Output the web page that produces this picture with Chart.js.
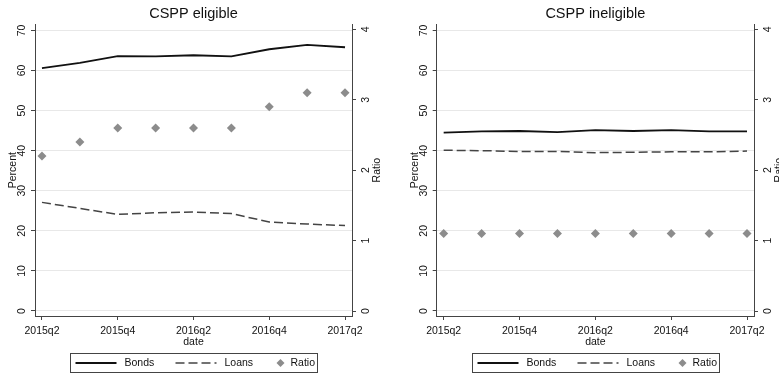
<!DOCTYPE html>
<html>
<head>
<meta charset="utf-8">
<script src="https://cdn.jsdelivr.net/npm/chart.js@4.4.0/dist/chart.umd.min.js"></script>
<style>
  body { margin: 0; background: #fff; overflow: hidden; width: 779px; height: 374px; position: relative; }
  .panel { position: absolute; top: 0; height: 374px; }
</style>
</head>
<body>
<div class="panel" style="left:0"><canvas id="eligible" width="390" height="374"></canvas></div>
<div class="panel" style="left:402px"><canvas id="ineligible" width="390" height="374"></canvas></div>
<script>
// quarters on the x axis
const quarters = ["2015q2", "2015q3", "2015q4", "2016q1", "2016q2", "2016q3", "2016q4", "2017q1", "2017q2"];
const xTickIdx = [0, 2, 4, 6, 8];
const percentTicks = [0, 10, 20, 30, 40, 50, 60, 70];
const ratioTicks = [0, 1, 2, 3, 4];

// CSPP eligible
const eligBonds = [60.6, 61.9, 63.6, 63.5, 63.8, 63.5, 65.3, 66.4, 65.8];
const eligLoans = [27.1, 25.6, 24.1, 24.5, 24.7, 24.3, 22.2, 21.7, 21.3];
const eligRatio = [2.2, 2.4, 2.6, 2.6, 2.6, 2.6, 2.9, 3.1, 3.1];

// CSPP ineligible
const inelBonds = [44.5, 44.8, 44.9, 44.6, 45.1, 44.9, 45.1, 44.8, 44.8];
const inelLoans = [40.1, 40.0, 39.8, 39.8, 39.5, 39.6, 39.7, 39.7, 39.9];
const inelRatio = [1.1, 1.1, 1.1, 1.1, 1.1, 1.1, 1.1, 1.1, 1.1];

const FONT = "'Liberation Sans', Arial, sans-serif";
const AXIS = "#444";

const toXY = arr => arr.map((v, i) => ({ x: i, y: v }));

// boxed legend under the plot, Stata style
const boxLegend = {
  id: "boxLegend",
  afterDraw(chart) {
    const ctx = chart.ctx;
    const a = chart.chartArea;
    const bw = 247, bh = 19;
    const bx = Math.round((a.left + a.right) / 2 - bw / 2) + 0.5;
    const by = 353.5;
    const my = by + bh / 2;
    const keyX = [5, 105, 210];
    const txtX = [54, 154, 220];
    ctx.save();
    ctx.strokeStyle = AXIS;
    ctx.lineWidth = 1;
    ctx.strokeRect(bx, by, bw, bh);
    ctx.font = "10.5px " + FONT;
    ctx.textBaseline = "middle";
    chart.data.datasets.forEach((ds, i) => {
      const kx = bx + keyX[i];
      if (ds.showLine === false) {
        ctx.beginPath();
        const r = 4;
        ctx.moveTo(kx, my - r); ctx.lineTo(kx + r, my); ctx.lineTo(kx, my + r); ctx.lineTo(kx - r, my);
        ctx.closePath();
        ctx.fillStyle = ds.backgroundColor;
        ctx.fill();
      } else {
        ctx.beginPath();
        ctx.setLineDash(ds.borderDash || []);
        ctx.strokeStyle = ds.borderColor;
        ctx.lineWidth = ds.borderWidth;
        ctx.moveTo(kx, my); ctx.lineTo(kx + 41, my);
        ctx.stroke();
        ctx.setLineDash([]);
      }
      ctx.fillStyle = "#111";
      ctx.fillText(ds.label, bx + txtX[i], my);
    });
    ctx.restore();
  }
};

// right axis title, rotated bottom-to-top like the left one
const ratioTitle = {
  id: "ratioTitle",
  afterDraw(chart) {
    const ctx = chart.ctx;
    const a = chart.chartArea;
    ctx.save();
    ctx.translate(a.right + 25.5, (a.top + a.bottom) / 2);
    ctx.rotate(-Math.PI / 2);
    ctx.font = "10.5px " + FONT;
    ctx.fillStyle = "#111";
    ctx.textAlign = "center";
    ctx.textBaseline = "middle";
    ctx.fillText("Ratio", 0, 0);
    ctx.restore();
  }
};

function makeChart(id, title, bonds, loans, ratio, leftW) {
  const ctx = document.getElementById(id).getContext("2d");
  return new Chart(ctx, {
    type: "line",
    data: {
      datasets: [
        {
          label: "Bonds",
          data: toXY(bonds),
          borderColor: "#111",
          borderWidth: 1.8,
          pointRadius: 0,
          tension: 0,
          yAxisID: "y"
        },
        {
          label: "Loans",
          data: toXY(loans),
          borderColor: "#444",
          borderWidth: 1.5,
          borderDash: [9, 4],
          pointRadius: 0,
          tension: 0,
          yAxisID: "y"
        },
        {
          label: "Ratio",
          data: toXY(ratio),
          showLine: false,
          pointStyle: "rectRot",
          pointRadius: 4.5,
          backgroundColor: "#8c8c8c",
          borderColor: "#8c8c8c",
          borderWidth: 0,
          yAxisID: "y2"
        }
      ]
    },
    options: {
      responsive: false,
      animation: false,
      layout: { padding: { top: 0, bottom: 21, left: 0, right: 0 } },
      plugins: {
        legend: { display: false },
        tooltip: { enabled: false },
        title: {
          display: true,
          text: title,
          fullSize: false,
          color: "#111",
          font: { family: FONT, size: 14.5, weight: "normal" },
          padding: { top: 5, bottom: 2 }
        }
      },
      scales: {
        x: {
          type: "linear",
          min: -0.184,
          max: 8.184,
          afterBuildTicks: s => { s.ticks = xTickIdx.map(v => ({ value: v })); },
          afterFit: s => { s.height = 37; },
          ticks: {
            autoSkip: false,
            minRotation: 0,
            maxRotation: 0,
            padding: 5,
            color: "#111",
            font: { family: FONT, size: 10.5 },
            callback: v => quarters[v]
          },
          grid: { drawOnChartArea: false, tickLength: 4, tickColor: AXIS },
          border: { color: AXIS },
          title: {
            display: true,
            text: "date",
            color: "#111",
            font: { family: FONT, size: 10.5 },
            padding: { top: 0, bottom: 5 }
          }
        },
        y: {
          position: "left",
          min: -1.25,
          max: 71.5,
          afterBuildTicks: s => { s.ticks = percentTicks.map(v => ({ value: v })); },
          afterFit: s => { s.width = leftW; },
          ticks: {
            minRotation: 90,
            maxRotation: 90,
            crossAlign: "center",
            padding: 3,
            color: "#111",
            font: { family: FONT, size: 10.5 }
          },
          grid: { color: "#e8e8e8", tickLength: 4, tickColor: AXIS },
          border: { color: AXIS },
          title: {
            display: true,
            text: "Percent",
            color: "#111",
            font: { family: FONT, size: 10.5 },
            padding: { top: 7, bottom: 0 }
          }
        },
        y2: {
          position: "right",
          min: -0.07,
          max: 4.07,
          afterBuildTicks: s => { s.ticks = ratioTicks.map(v => ({ value: v })); },
          afterFit: s => { s.width = 38; },
          ticks: {
            minRotation: 90,
            maxRotation: 90,
            crossAlign: "center",
            padding: 7,
            color: "#111",
            font: { family: FONT, size: 10.5 }
          },
          grid: { drawOnChartArea: false, tickLength: 4, tickColor: AXIS },
          border: { color: AXIS }
        }
      }
    },
    plugins: [boxLegend, ratioTitle]
  });
}

makeChart("eligible", "CSPP eligible", eligBonds, eligLoans, eligRatio, 35);
makeChart("ineligible", "CSPP ineligible", inelBonds, inelLoans, inelRatio, 34.7);
</script>
</body>
</html>
